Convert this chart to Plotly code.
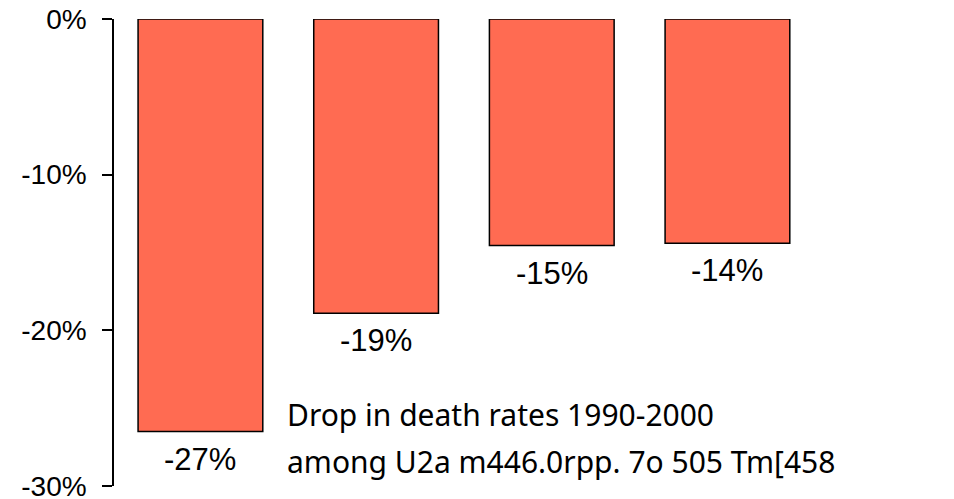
import plotly.graph_objects as go

categories = ["A", "B", "C", "D"]
values = [-26.5, -18.9, -14.55, -14.4]
bar_labels = ["-27%", "-19%", "-15%", "-14%"]
y_ticks = [0, -10, -20, -30]
y_tick_labels = ["0%", "-10%", "-20%", "-30%"]
note_line1 = "Drop in death rates 1990-2000"
note_line2 = "among U2a m446.0rpp. 7o 505 Tm[458"

xpos = list(range(len(categories)))

fig = go.Figure()
fig.add_trace(go.Bar(
    x=xpos, y=values, width=0.71,
    marker=dict(color="#FF6B52", line=dict(color="black", width=1.5)),
    hoverinfo="skip",
))

for xi, v, lab in zip(xpos, values, bar_labels):
    fig.add_annotation(x=xi, y=v, text=lab, showarrow=False, xanchor="center",
                       yanchor="top", yshift=-8,
                       font=dict(family="Liberation Sans, Arial", size=31, color="black"))

fig.add_annotation(x=0.48, y=-25.4, xref="x", yref="y", text=note_line1, showarrow=False,
                   xanchor="left", yanchor="middle",
                   font=dict(family="Noto Sans", size=30, color="black"))
fig.add_annotation(x=0.48, y=-28.4, xref="x", yref="y", text=note_line2, showarrow=False,
                   xanchor="left", yanchor="middle",
                   font=dict(family="Noto Sans", size=30, color="black"))

fig.update_layout(
    width=954, height=499,
    margin=dict(l=114, r=0, t=19, b=13, autoexpand=False),
    paper_bgcolor="white", plot_bgcolor="white",
    showlegend=False,
    xaxis=dict(visible=False, range=[-0.492, -0.492 + 840 / 175.67]),
    yaxis=dict(range=[-30, 0], tickvals=y_ticks, ticktext=y_tick_labels,
               automargin=False,
               showline=True, linecolor="black", linewidth=1.5,
               ticks="outside", ticklen=10, tickwidth=1.5, tickcolor="black",
               showgrid=False, zeroline=False, ticklabelstandoff=10,
               ticklabeloverflow="allow",
               tickfont=dict(family="Liberation Sans, Arial", size=28, color="black")),
)

fig.write_html(
    "out.html",
    config={"displayModeBar": False},
    post_script="document.body.style.margin='0';document.body.style.overflow='hidden';",
)
